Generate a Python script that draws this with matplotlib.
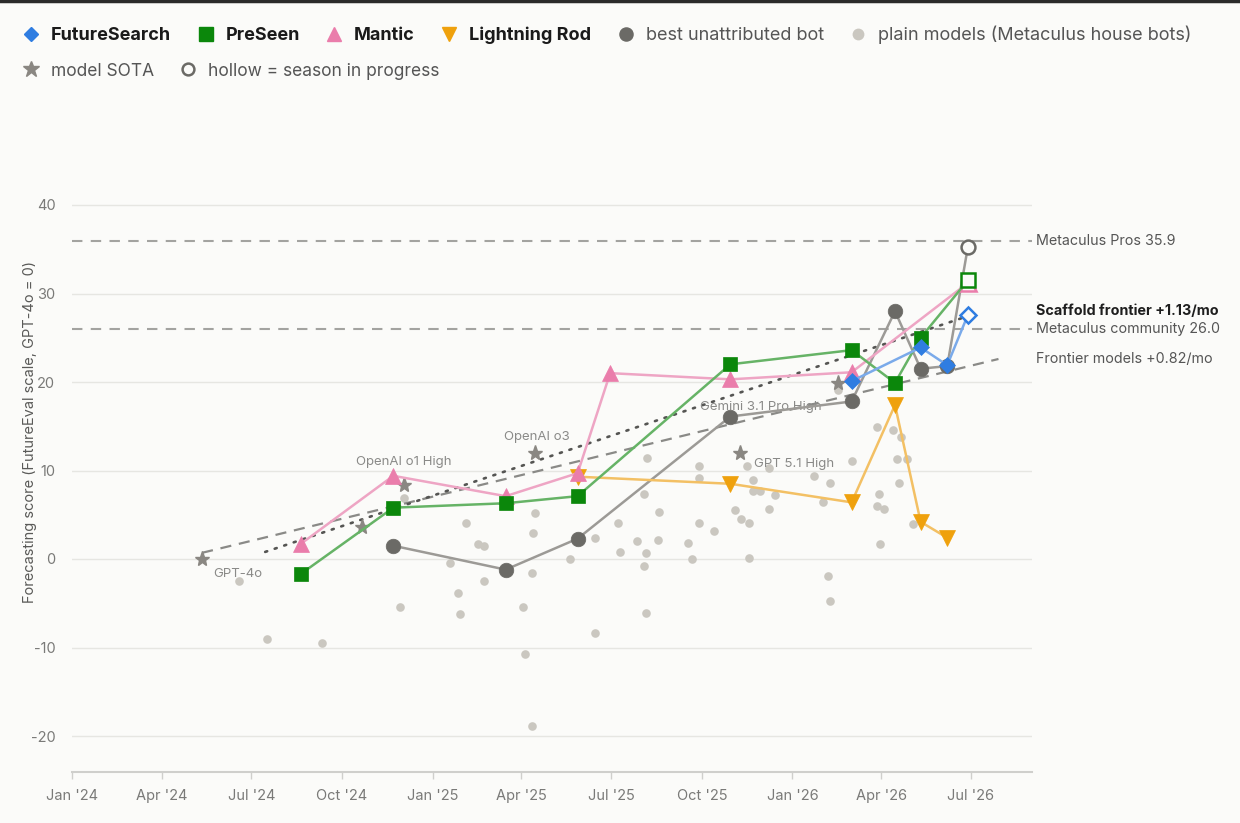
import matplotlib
matplotlib.use('Agg')
import matplotlib.pyplot as plt
import matplotlib.dates as mdates
from matplotlib.lines import Line2D
import pandas as pd

plt.rcParams['font.family'] = ['Inter', 'DejaVu Sans']
plt.rcParams['axes.unicode_minus'] = False

# ---------------- data ----------------
futuresearch_dates = ['2026-03-02', '2026-05-11', '2026-06-07', '2026-06-28']
futuresearch_vals = [20.1, 23.9, 21.9, 27.6]

preseen_dates = ['2024-08-20', '2024-11-22', '2025-03-16', '2025-05-28', '2025-10-30',
                 '2026-03-02', '2026-04-15', '2026-05-11', '2026-06-28']
preseen_vals = [-1.7, 5.8, 6.3, 7.1, 22.0, 23.6, 19.9, 25.0, 31.5]

mantic_dates = ['2024-08-20', '2024-11-22', '2025-03-16', '2025-05-28', '2025-06-30',
                '2025-10-30', '2026-03-02', '2026-06-28']
mantic_vals = [1.7, 9.4, 7.1, 9.7, 21.0, 20.3, 21.1, 31.2]

lightning_dates = ['2025-05-28', '2025-10-30', '2026-03-02', '2026-04-15', '2026-05-11', '2026-06-07']
lightning_vals = [9.3, 8.5, 6.4, 17.4, 4.2, 2.4]

bestbot_dates = ['2024-11-22', '2025-03-16', '2025-05-28', '2025-10-30', '2026-03-02',
                 '2026-04-15', '2026-05-11', '2026-06-07', '2026-06-28']
bestbot_vals = [1.5, -1.2, 2.3, 16.1, 17.8, 28.0, 21.5, 21.8, 35.3]

# last point of these series = season in progress (hollow)
in_progress = {'FutureSearch': True, 'PreSeen': True, 'Mantic': True,
               'Lightning Rod': False, 'best unattributed bot': True}

plain_dates = ['2024-06-18', '2024-07-17', '2024-09-11', '2024-11-29', '2024-12-03',
               '2025-01-19', '2025-01-27', '2025-01-29', '2025-02-04', '2025-02-16',
               '2025-02-22', '2025-02-22', '2025-04-03', '2025-04-05', '2025-04-12',
               '2025-04-12', '2025-04-13', '2025-04-15', '2025-05-20', '2025-06-15',
               '2025-06-15', '2025-07-08', '2025-07-10', '2025-07-27', '2025-08-03',
               '2025-08-03', '2025-08-05', '2025-08-06', '2025-08-05', '2025-08-19',
               '2025-08-18', '2025-09-17', '2025-09-21', '2025-09-28', '2025-09-28',
               '2025-09-28', '2025-10-13', '2025-11-04', '2025-11-10', '2025-11-16',
               '2025-11-18', '2025-11-18', '2025-11-22', '2025-11-22', '2025-11-29',
               '2025-12-08', '2025-12-08', '2025-12-14', '2026-01-23', '2026-02-01',
               '2026-02-06', '2026-02-08', '2026-02-08', '2026-02-16', '2026-03-02',
               '2026-03-28', '2026-03-30', '2026-03-28', '2026-04-04', '2026-03-31',
               '2026-04-13', '2026-04-17', '2026-04-21', '2026-04-27', '2026-04-19',
               '2026-05-03']
plain_vals = [-2.5, -9.0, -9.5, -5.4, 6.9,
              -0.5, -3.8, -6.2, 4.1, 1.7,
              1.5, -2.5, -5.4, -10.7, -18.9,
              -1.6, 2.9, 5.2, 0.0, 2.4,
              -8.4, 4.1, 0.8, 2.0, 7.3,
              -0.8, 0.7, 11.4, -6.1, 5.3,
              2.1, 1.8, 0.0, 10.5, 9.1,
              4.1, 3.2, 5.5, 4.5, 10.5,
              4.1, 0.1, 8.9, 7.7, 7.7,
              10.3, 5.6, 7.2, 9.4, 6.4,
              -1.9, 8.6, -4.8, 19.1, 11.1,
              14.9, 7.4, 6.0, 5.6, 1.7,
              14.6, 11.3, 13.8, 11.3, 8.6,
              3.9]

sota_dates = ['2024-05-12', '2024-10-21', '2024-12-03', '2025-04-15', '2025-11-09', '2026-02-16']
sota_vals = [0.0, 3.6, 8.4, 12.0, 12.0, 19.9]
sota_labels = ['GPT-4o', '', 'OpenAI o1 High', 'OpenAI o3', 'GPT 5.1 High', 'Gemini 3.1 Pro High']

scaffold_trend_dates = ['2024-07-15', '2026-06-24']
scaffold_trend_vals = [0.8, 27.3]
frontier_trend_dates = ['2024-05-12', '2026-07-29']
frontier_trend_vals = [0.7, 22.6]

ref_names = ['Metaculus Pros 35.9', 'Metaculus community 26.0']
ref_vals = [35.9, 26.0]

y_ticks = [-20, -10, 0, 10, 20, 30, 40]

# ---------------- style ----------------
BG = '#fbfbf9'
series = [
    ('FutureSearch', futuresearch_dates, futuresearch_vals, 'D', 8.3, '#2f7de1', '#7aaaea'),
    ('PreSeen', preseen_dates, preseen_vals, 's', 10.5, '#0b870b', '#66b366'),
    ('Mantic', mantic_dates, mantic_vals, '^', 11.5, '#ea7dab', '#eea5c4'),
    ('Lightning Rod', lightning_dates, lightning_vals, 'v', 11.5, '#efa10d', '#f3c064'),
    ('best unattributed bot', bestbot_dates, bestbot_vals, 'o', 10.5, '#6b6a66', '#9c9a96'),
]
z_order = {'best unattributed bot': 3, 'Lightning Rod': 4, 'Mantic': 5, 'PreSeen': 6, 'FutureSearch': 7}

W, H = 1240, 823
fig = plt.figure(figsize=(W / 100, H / 100), dpi=100, facecolor=BG)
ax_l, ax_r, ax_t, ax_b = 72, 1032, 8, 772
ax = fig.add_axes([ax_l / W, 1 - ax_b / H, (ax_r - ax_l) / W, (ax_b - ax_t) / H])
ax.set_facecolor(BG)

x0 = pd.Timestamp('2024-01-01')
x1 = pd.Timestamp('2026-09-01')
ax.set_xlim(x0, x1)
px_per_unit = (736 - 205) / 60.0
ax.set_ylim(-20 - (ax_b - 736) / px_per_unit, 40 + (205 - ax_t) / px_per_unit)

# grid / refs
ax.set_yticks(y_ticks)
ax.yaxis.grid(True, color='#e6e6e2', lw=1.0, zorder=0)
ax.set_axisbelow(True)
for v in ref_vals:
    ax.axhline(v, color='#a3a3a0', lw=1.5, ls=(0, (5, 4)), zorder=1)

# plain models
ax.plot(pd.to_datetime(plain_dates), plain_vals, ls='none', marker='o', ms=6.2,
        mfc='#cac7c0', mec='none', zorder=1.5)

# trend lines
ax.plot(pd.to_datetime(frontier_trend_dates), frontier_trend_vals, color='#8a8a87',
        lw=1.6, ls=(0, (5, 3.5)), zorder=2)
ax.plot(pd.to_datetime(scaffold_trend_dates), scaffold_trend_vals, color='#555553',
        lw=1.9, ls=(0, (0.8, 3.0)), dash_capstyle='round', zorder=2)

# SOTA stars
sd = pd.to_datetime(sota_dates)
ax.plot(sd, sota_vals, ls='none', marker='*', ms=11, mfc='#8a8782', mec='#8a8782', zorder=2.5)
label_style = {  # (ha, dx px, dy px)
    'GPT-4o': ('left', 11, -15),
    'OpenAI o1 High': ('center', 0, 23),
    'OpenAI o3': ('center', 2, 16),
    'GPT 5.1 High': ('left', 14, -11),
    'Gemini 3.1 Pro High': ('right', -16, -24),
}
for d, v, lab in zip(sd, sota_vals, sota_labels):
    if not lab:
        continue
    ha, dx, dy = label_style[lab]
    ax.annotate(lab, (d, v), xytext=(dx * 0.72, dy * 0.72), textcoords='offset points',
                ha=ha, va='center', fontsize=9.5, color='#8a8a88', zorder=2.6)

# series
for name, dates, vals, mk, ms, mcol, lcol in series:
    d = pd.to_datetime(dates)
    z = z_order[name]
    ax.plot(d, vals, color=lcol, lw=1.8, zorder=z)
    if in_progress[name]:
        ax.plot(d[:-1], vals[:-1], ls='none', marker=mk, ms=ms, mfc=mcol, mec=mcol, mew=0.5, zorder=z + 0.1)
        ax.plot(d[-1:], vals[-1:], ls='none', marker=mk, ms=ms * 0.95, mfc=BG, mec=mcol, mew=1.8, zorder=z + 0.1)
    else:
        ax.plot(d, vals, ls='none', marker=mk, ms=ms, mfc=mcol, mec=mcol, mew=0.5, zorder=z + 0.1)

# right-hand labels
right_labels = [
    (ref_names[0], ref_vals[0], 'normal', '#555555'),
    ('Scaffold frontier +1.13/mo', 28.0, 'bold', '#1e1e1e'),
    (ref_names[1], ref_vals[1], 'normal', '#555555'),
    ('Frontier models +0.82/mo', frontier_trend_vals[-1], 'normal', '#555555'),
]
for txt, v, wt, c in right_labels:
    ax.annotate(txt, (1.0, v), xycoords=('axes fraction', 'data'), xytext=(3, 0),
                textcoords='offset points', ha='left', va='center', fontsize=10.3,
                fontweight=wt, color=c, annotation_clip=False)

# axes styling
for s in ['top', 'right', 'left']:
    ax.spines[s].set_visible(False)
ax.spines['bottom'].set_color('#cfcfcc')
ax.spines['bottom'].set_linewidth(1.5)
ax.xaxis.set_major_locator(mdates.MonthLocator(bymonth=[1, 4, 7, 10]))
ax.xaxis.set_major_formatter(mdates.DateFormatter("%b '%y"))
ax.tick_params(axis='x', length=5, width=1, color='#cfcfcc', labelcolor='#7a7a78',
               labelsize=10.5, pad=7)
ax.tick_params(axis='y', length=0, pad=12, labelcolor='#7a7a78', labelsize=10.5)
ax.set_ylabel('Forecasting score (FutureEval scale, GPT-4o = 0)', fontsize=10.5, color='#5a5a58')
ax.yaxis.set_label_coords((37 - ax_l) / (ax_r - ax_l), (ax_b - 432) / (ax_b - ax_t))

# legend
h1 = [Line2D([], [], ls='none', marker=mk, ms=ms * 0.9, mfc=mcol, mec=mcol)
      for (_, _, _, mk, ms, mcol, _) in series]
h1.append(Line2D([], [], ls='none', marker='o', ms=8.5, mfc='#cac7c0', mec='none'))
l1 = [s[0] for s in series] + ['plain models (Metaculus house bots)']
leg1 = fig.legend(h1, l1, loc='center left', bbox_to_anchor=(22 / W, 1 - 35 / H), ncol=6,
                  frameon=False, fontsize=13, handlelength=1.0, handletextpad=0.6,
                  columnspacing=1.41, borderpad=0, borderaxespad=0)
for i, t in enumerate(leg1.get_texts()):
    if i < 4:
        t.set_fontweight('bold')
        t.set_color('#1a1a1a')
    else:
        t.set_color('#555555')

h2 = [Line2D([], [], ls='none', marker='*', ms=12, mfc='#8a8782', mec='#8a8782'),
      Line2D([], [], ls='none', marker='o', ms=8.5, mfc=BG, mec='#6b6a66', mew=1.8)]
leg2 = fig.legend(h2, ['model SOTA', 'hollow = season in progress'], loc='center left',
                  bbox_to_anchor=(22 / W, 1 - 71 / H), ncol=2, frameon=False, fontsize=12.5,
                  handlelength=1.0, handletextpad=0.65, columnspacing=1.5, borderpad=0,
                  borderaxespad=0)
for t in leg2.get_texts():
    t.set_color('#555555')

fig.add_artist(Line2D([0, 1], [1 - 1 / H, 1 - 1 / H], transform=fig.transFigure,
                      color='#2b2b2b', lw=2.5))

fig.savefig('out.png', dpi=100, facecolor=BG)
